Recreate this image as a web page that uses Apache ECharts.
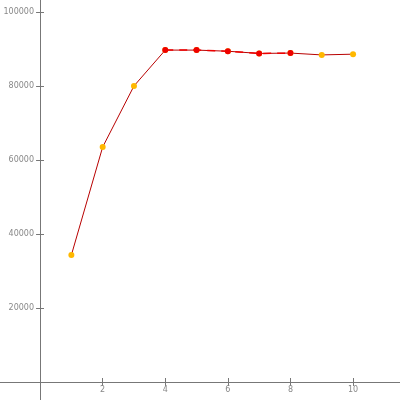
<!DOCTYPE html>
<html><head><meta charset="utf-8">
<script src="https://cdn.jsdelivr.net/npm/echarts@6/dist/echarts.min.js"></script>
<style>html,body{margin:0;padding:0;background:#fff}#c{width:400px;height:400px}</style>
</head><body><div id="c"></div>
<script>
const xValues = [1, 2, 3, 4, 5, 6, 7, 8, 9, 10];
const mainValues = [34300, 63500, 80000, 89700, 89700, 89400, 88800, 88900, 88400, 88600];
const redX = [4, 5, 6, 7, 8];
const redValues = [89700, 89700, 89400, 88800, 88900];
const xTicks = [2, 4, 6, 8, 10];
const yTicks = [20000, 40000, 60000, 80000, 100000];

const chart = echarts.init(document.getElementById('c'));
const axisCol = '#777';
const labelStyle = { color: '#888', fontSize: 8, fontFamily: 'DejaVu Sans', formatter: v => String(v) };
const noLine = { show: false };
chart.setOption({
  animation: false,
  grid: [
    { left: 0, right: 0, top: 0, bottom: 0, outerBoundsMode: 'none' },
    { left: 40, right: 0, top: 0, bottom: 18, outerBoundsMode: 'none' }
  ],
  xAxis: [{
    gridIndex: 0, type: 'value', min: -1.28, max: 11.5,
    axisLine: { show: true, onZero: true, lineStyle: { color: axisCol, width: 1 } },
    axisTick: { show: true, length: 4, customValues: xTicks, lineStyle: { color: axisCol } },
    axisLabel: { show: false },
    splitLine: { show: false }
  }, {
    gridIndex: 1, type: 'value', min: 0, max: 11.5, position: 'bottom',
    axisLine: { show: false, onZero: false },
    axisTick: { show: true, inside: true, length: 4, customValues: xTicks, lineStyle: { color: axisCol } },
    axisLabel: { show: true, customValues: xTicks, margin: 4, ...labelStyle },
    splitLine: { show: false }
  }],
  yAxis: [{
    gridIndex: 0, type: 'value', min: -4865, max: 103243,
    axisLine: { show: true, onZero: true, lineStyle: { color: axisCol, width: 1 } },
    axisTick: { show: true, length: 4, customValues: yTicks, lineStyle: { color: axisCol } },
    axisLabel: { show: false },
    splitLine: { show: false }
  }, {
    gridIndex: 1, type: 'value', min: 0, max: 103243, position: 'left',
    axisLine: { show: false, onZero: false },
    axisTick: { show: true, inside: true, length: 4, customValues: yTicks, lineStyle: { color: axisCol } },
    axisLabel: { show: true, customValues: yTicks, margin: 6, ...labelStyle },
    splitLine: { show: false }
  }],
  series: [{
    type: 'line', xAxisIndex: 0, yAxisIndex: 0,
    data: xValues.map((x, i) => [x, mainValues[i]]),
    lineStyle: { color: '#b80000', width: 1 },
    itemStyle: { color: '#ffb800' },
    symbol: 'circle', symbolSize: 6,
    z: 2
  }, {
    type: 'line', xAxisIndex: 0, yAxisIndex: 0,
    data: redX.map((x, i) => [x, redValues[i]]),
    lineStyle: { color: '#ee0000', width: 1.5, type: [8, 6] },
    itemStyle: { color: '#ee0000' },
    symbol: 'circle', symbolSize: 6,
    z: 3
  }]
});
</script></body></html>
